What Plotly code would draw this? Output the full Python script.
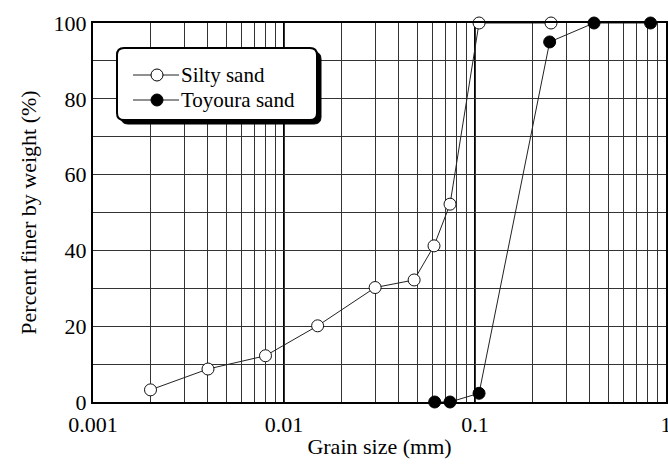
import plotly.graph_objects as go

# ---- data ----
silty_x = [0.002, 0.004, 0.008, 0.015, 0.03, 0.048, 0.061, 0.074, 0.105, 0.25]
silty_y = [3.2, 8.7, 12.2, 20.1, 30.2, 32.2, 41.2, 52.2, 100, 100]
toyoura_x = [0.0615, 0.074, 0.105, 0.246, 0.42, 0.83]
toyoura_y = [0, 0, 2.3, 95, 100, 100]

series_names = ["Silty sand", "Toyoura sand"]
x_major = [0.001, 0.01, 0.1, 1]
x_major_labels = ["0.001", "0.01", "0.1", "1"]
y_ticks = [0, 20, 40, 60, 80, 100]

FONT = "Liberation Serif"
W, H = 668, 464
L, R, T, B = 93, 2, 23, 62
PW, PH = W - L - R, H - T - B

# grid positions on the log axis (1..9 of each decade)
x_grid = []
for d in [0.001, 0.01, 0.1]:
    for m in range(1, 10):
        x_grid.append(round(d * m, 6))
x_grid.append(1)
x_text = [x_major_labels[x_major.index(v)] if v in x_major else "" for v in x_grid]

fills = ["white", "black"]

fig = go.Figure()
fig.add_trace(go.Scatter(
    x=silty_x, y=silty_y, mode="lines+markers", name=series_names[0],
    line=dict(color="#222", width=1),
    marker=dict(symbol="circle", size=12, color=fills[0], line=dict(color="#111", width=1)),
    cliponaxis=False, showlegend=False))
fig.add_trace(go.Scatter(
    x=toyoura_x, y=toyoura_y, mode="lines+markers", name=series_names[1],
    line=dict(color="#222", width=1),
    marker=dict(symbol="circle", size=12, color=fills[1], line=dict(color="black", width=1)),
    cliponaxis=False, showlegend=False))

def px2x(p):
    return (p - L) / PW

def px2y(p):
    return 1 - (p - T) / PH

def rrect(x0, y0, x1, y1, r):
    rx, ry = r / PW, r / PH
    a, b, c, d = px2x(x0), px2y(y0), px2x(x1), px2y(y1)
    return (f"M{a+rx},{b} L{c-rx},{b} Q{c},{b} {c},{b-ry} L{c},{d+ry} Q{c},{d} {c-rx},{d} "
            f"L{a+rx},{d} Q{a},{d} {a},{d+ry} L{a},{b-ry} Q{a},{b} {a+rx},{b} Z")

shapes = []
for v in [0.01, 0.1]:
    shapes.append(dict(type="line", xref="x", yref="paper", x0=v, x1=v, y0=0, y1=1,
                       line=dict(color="black", width=2), layer="below"))
# legend shadow and box
shapes.append(dict(type="path", xref="paper", yref="paper", path=rrect(121, 52, 321, 124, 7),
                   fillcolor="black", line=dict(color="black", width=1), layer="above"))
shapes.append(dict(type="path", xref="paper", yref="paper", path=rrect(117, 48, 317, 120, 7),
                   fillcolor="white", line=dict(color="black", width=2), layer="above"))

annotations = []
row_y = [75, 100]
for name, fill, ry in zip(series_names, fills, row_y):
    shapes.append(dict(type="line", xref="paper", yref="paper",
                       x0=px2x(133), x1=px2x(179), y0=px2y(ry), y1=px2y(ry),
                       line=dict(color="#222", width=1), layer="above"))
    shapes.append(dict(type="circle", xref="paper", yref="paper",
                       xsizemode="pixel", ysizemode="pixel",
                       xanchor=px2x(157), yanchor=px2y(ry),
                       x0=-6, x1=6, y0=-6, y1=6,
                       fillcolor=fill, line=dict(color="black", width=1), layer="above"))
    annotations.append(dict(xref="paper", yref="paper", x=px2x(179), y=px2y(ry),
                            xanchor="left", yanchor="middle", showarrow=False, text=name,
                            font=dict(family=FONT, size=21, color="black")))

fig.update_layout(
    width=W, height=H,
    margin=dict(l=L, r=R, t=T, b=B, autoexpand=False),
    paper_bgcolor="white", plot_bgcolor="white",
    font=dict(family=FONT, size=22, color="black"),
    shapes=shapes, annotations=annotations,
    showlegend=False,
    xaxis=dict(type="log", range=[-3, 0], tickvals=x_grid, ticktext=x_text,
               showgrid=True, gridcolor="#333", gridwidth=1,
               showline=True, linecolor="black", linewidth=2, mirror=True,
               ticks="", zeroline=False, ticklabeloverflow="allow", ticklabelstandoff=2,
               automargin=False,
               tickfont=dict(family=FONT, size=22, color="black"),
               title=dict(text="Grain size (mm)", font=dict(family=FONT, size=22), standoff=2)),
    yaxis=dict(range=[0, 100], tickvals=y_ticks,
               showgrid=True, gridcolor="#333", gridwidth=1,
               minor=dict(dtick=10, showgrid=True, gridcolor="#333", gridwidth=1),
               showline=True, linecolor="black", linewidth=2, mirror=True,
               ticks="", zeroline=False, automargin=False,
               tickfont=dict(family=FONT, size=22, color="black"),
               title=dict(text="Percent finer by weight (%)", font=dict(family=FONT, size=22), standoff=11)),
)

fig.write_html("out.html")
